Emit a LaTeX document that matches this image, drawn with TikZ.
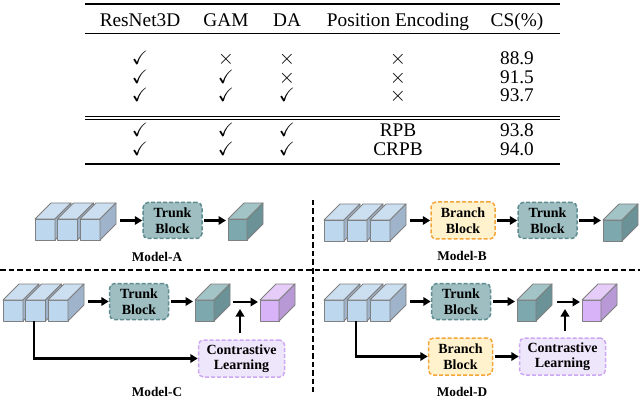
\documentclass[tikz,border=0pt]{standalone}
\usepackage{amssymb}
\usepackage{fontspec}
\setmainfont{Liberation Serif}
\usetikzlibrary{arrows.meta}
\definecolor{bluefront}{HTML}{BDD7EE}
\definecolor{bluetop}{HTML}{CCDFF1}
\definecolor{blueside}{HTML}{9FB4CB}
\definecolor{tealfront}{HTML}{7DA8AE}
\definecolor{tealtop}{HTML}{A3C4C7}
\definecolor{tealside}{HTML}{6A9297}
\definecolor{purpfront}{HTML}{D9B3F7}
\definecolor{purptop}{HTML}{E6CDF9}
\definecolor{purpside}{HTML}{B899D6}
\definecolor{edgegray}{HTML}{7F7F7F}
\definecolor{trunkfill}{HTML}{9EBEC1}
\definecolor{trunkline}{HTML}{5F8C91}
\definecolor{branchfill}{HTML}{FFF2CC}
\definecolor{branchline}{HTML}{F4A63A}
\definecolor{clfill}{HTML}{EEE6FB}
\definecolor{clline}{HTML}{CDA8F2}
\newcommand\mycube[4]{%
  \filldraw[cubeedge, fill=#4front] (#1,#2) rectangle ++(#3,21);
  \filldraw[cubeedge, fill=#4top] (#1,#2) -- ++(16,-16) -- ++(#3,0) -- ++(-16,16) -- cycle;
  \filldraw[cubeedge, fill=#4side] (#1+#3,#2) -- ++(16,-16) -- ++(0,21) -- ++(-16,16) -- cycle;}
\tikzset{
  cubeedge/.style={draw=edgegray, line width=0.9pt, line join=round},
  blockbase/.style={rounded corners=5pt, line width=1.5pt, dash pattern=on 4pt off 2pt,
    inner sep=0pt, align=center, font=\fontsize{14}{15.5}\selectfont\bfseries},
  trunkbox/.style={blockbase, draw=trunkline, fill=trunkfill, minimum width=59pt, minimum height=36pt},
  branchbox/.style={blockbase, draw=branchline, fill=branchfill, minimum width=64pt, minimum height=37pt},
  clbox/.style={blockbase, draw=clline, fill=clfill, minimum width=86pt, minimum height=37pt},
  arr/.style={line width=2.3pt, -{Triangle[length=7.5pt,width=8.5pt]}},
  sep/.style={line width=2pt, dash pattern=on 5.5pt off 3pt},
  tab/.style={anchor=base, inner sep=0pt, font=\fontsize{19.3}{23}\selectfont},
  mlabel/.style={inner sep=0pt, font=\fontsize{13.3}{15}\selectfont\bfseries},
}
\begin{document}
\begin{tikzpicture}[x=1pt, y=-1pt]
\useasboundingbox (0,0) rectangle (640,398);
% ---------------- table ----------------
\draw[line width=1.4pt] (85,4) -- (560,4);
\draw[line width=0.9pt] (85,33.5) -- (560,33.5);
\draw[line width=0.9pt] (85,116.5) -- (560,116.5);
\draw[line width=0.9pt] (85,119.5) -- (560,119.5);
\draw[line width=1.4pt] (85,164) -- (560,164);
\node[tab] (h1) at (140,27) {ResNet3D};
\node[tab] (h2) at (226,27) {GAM};
\node[tab] (h3) at (287,27) {DA};
\node[tab] (h4) at (398,27) {Position Encoding};
\node[tab] (h5) at (517,27) {CS(\%)};
\node[tab] (r11) at (140,65) {$\checkmark$};
\node[tab] (r12) at (226,65) {$\times$};
\node[tab] (r13) at (287,65) {$\times$};
\node[tab] (r14) at (398,65) {$\times$};
\node[tab] (r15) at (517,65) {88.9};
\node[tab] (r21) at (140,83.5) {$\checkmark$};
\node[tab] (r22) at (226,83.5) {$\checkmark$};
\node[tab] (r23) at (287,83.5) {$\times$};
\node[tab] (r24) at (398,83.5) {$\times$};
\node[tab] (r25) at (517,83.5) {91.5};
\node[tab] (r31) at (140,102) {$\checkmark$};
\node[tab] (r32) at (226,102) {$\checkmark$};
\node[tab] (r33) at (287,102) {$\checkmark$};
\node[tab] (r34) at (398,102) {$\times$};
\node[tab] (r35) at (517,102) {93.7};
\node[tab] (r41) at (140,137) {$\checkmark$};
\node[tab] (r42) at (226,137) {$\checkmark$};
\node[tab] (r43) at (287,137) {$\checkmark$};
\node[tab] (r44) at (398,137) {RPB};
\node[tab] (r45) at (517,137) {93.8};
\node[tab] (r51) at (140,155.5) {$\checkmark$};
\node[tab] (r52) at (226,155.5) {$\checkmark$};
\node[tab] (r53) at (287,155.5) {$\checkmark$};
\node[tab] (r54) at (398,155.5) {CRPB};
\node[tab] (r55) at (517,155.5) {94.0};
% ---------------- separators ----------------
\draw[sep] (0,270) -- (640,270);
\draw[sep] (313,200) -- (313,392);
% ---------------- Model-A ----------------
\mycube{35}{219}{20}{blue}
\mycube{57.5}{219}{20}{blue}
\mycube{80}{219}{20}{blue}
\mycube{228}{219}{19}{teal}
\coordinate (aOut) at (120,220.5);
\coordinate (aCube) at (226,220.5);
\node[trunkbox] (aT) at (172.5,220.5) {Trunk\\Block};
\draw[arr] (aOut) -- (aT.west);
\draw[arr] (aT.east) ++(1.5,0) -- (aCube);
\node[mlabel] (aL) at (157,257) {Model-A};
% ---------------- Model-B ----------------
\mycube{324}{220}{20}{blue}
\mycube{347}{220}{20}{blue}
\mycube{370}{220}{20}{blue}
\mycube{603}{220}{19}{teal}
\coordinate (bOut) at (410,220.5);
\coordinate (bCube) at (601,220.5);
\node[branchbox] (bB) at (463,220.5) {Branch\\Block};
\node[trunkbox] (bT) at (547.5,220.5) {Trunk\\Block};
\draw[arr] (bOut) -- (bB.west);
\draw[arr] (bB.east) ++(1,0) -- (bT.west);
\draw[arr] (bT.east) ++(1.5,0) -- (bCube);
\node[mlabel] (bL) at (462,256) {Model-B};
% ---------------- Model-C ----------------
\mycube{3}{300}{20}{blue}
\mycube{25.5}{300}{20}{blue}
\mycube{48}{300}{20}{blue}
\mycube{195}{300}{19}{teal}
\mycube{260}{300}{19}{purp}
\coordinate (cOut) at (88,301.5);
\coordinate (cCube) at (193,301.5);
\coordinate (cMid) at (233,302);
\coordinate (cPurp) at (258,302);
\coordinate (cUp) at (240,309);
\coordinate (cBot) at (34,321);
\node[trunkbox] (cT) at (139,301.5) {Trunk\\Block};
\node[clbox] (cCL) at (241.5,358.5) {Contrastive\\Learning};
\draw[arr] (cOut) -- (cT.west);
\draw[arr] (cT.east) ++(1.5,0) -- (cCube);
\draw[arr] (cMid) -- (cPurp);
\draw[arr, shorten <=6pt] (cCL.north -| cUp) -- (cUp);
\draw[arr] (cBot) |- (cCL.west);
\node[mlabel] (cL) at (157,391.5) {Model-C};
% ---------------- Model-D ----------------
\mycube{324}{300}{20}{blue}
\mycube{347}{300}{20}{blue}
\mycube{370}{300}{20}{blue}
\mycube{517}{300}{19}{teal}
\mycube{582}{300}{19}{purp}
\coordinate (dOut) at (410,301.5);
\coordinate (dCube) at (515,301.5);
\coordinate (dMid) at (557,302);
\coordinate (dPurp) at (580,302);
\coordinate (dUp) at (565,309);
\coordinate (dBot) at (356,321);
\node[trunkbox] (dT) at (461,301.5) {Trunk\\Block};
\node[branchbox] (dB) at (460.5,356.5) {Branch\\Block};
\node[clbox] (dCL) at (562.5,356.5) {Contrastive\\Learning};
\draw[arr] (dOut) -- (dT.west);
\draw[arr] (dT.east) ++(1.5,0) -- (dCube);
\draw[arr] (dMid) -- (dPurp);
\draw[arr, shorten <=6pt] (dCL.north -| dUp) -- (dUp);
\draw[arr] (dBot) |- (dB.west);
\draw[arr] (dB.east) ++(1.5,0) -- (dCL.west);
\node[mlabel] (dL) at (462,391.5) {Model-D};
\end{tikzpicture}
\end{document}
